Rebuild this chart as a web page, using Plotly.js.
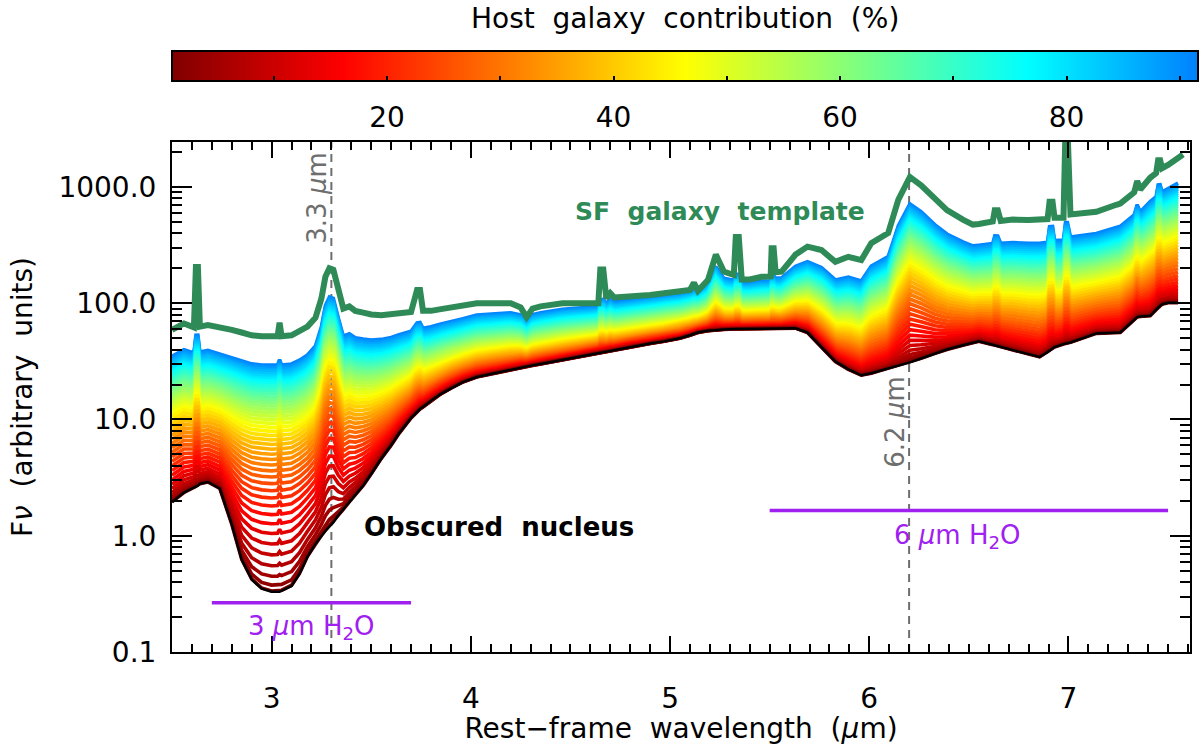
<!DOCTYPE html>
<html>
<head>
<meta charset="utf-8">
<script src="https://cdn.plot.ly/plotly-3.0.1.min.js"></script>
<style>
  body {margin: 0; background: #fff;}
  #plot {width: 1200px; height: 745px;}
</style>
</head>
<body>
<div id="plot"></div>
<script>
/////Data/////
// rest-frame wavelength grid (um)
const wavelength = [
  2.50, 2.56, 2.61, 2.62, 2.63, 2.64, 2.68, 2.74, 2.80, 2.85,
  2.90, 2.95, 3.00, 3.03, 3.04, 3.05, 3.10, 3.14, 3.18, 3.22,
  3.25, 3.27, 3.29, 3.31, 3.335, 3.36, 3.39, 3.42, 3.46, 3.50,
  3.55, 3.60, 3.64, 3.70, 3.73, 3.745, 3.76, 3.80, 3.85, 3.90,
  3.96, 4.03, 4.13, 4.20, 4.25, 4.28, 4.31, 4.35, 4.46, 4.60,
  4.64, 4.65, 4.665, 4.68, 4.70, 4.72, 4.80, 4.90, 4.97, 5.05,
  5.10, 5.12, 5.14, 5.19, 5.23, 5.27, 5.32, 5.33, 5.345, 5.36,
  5.40, 5.46, 5.505, 5.51, 5.52, 5.53, 5.56, 5.63, 5.69, 5.76,
  5.83, 5.895, 5.96, 6.01, 6.095, 6.146, 6.204, 6.26, 6.33, 6.39,
  6.47, 6.52, 6.55, 6.62, 6.63, 6.645, 6.66, 6.72, 6.80, 6.855,
  6.895, 6.905, 6.92, 6.93, 6.975, 6.985, 6.995, 7.01, 7.14, 7.24,
  7.26, 7.33, 7.345, 7.36, 7.41, 7.44, 7.45, 7.46, 7.47, 7.50,
  7.55, 7.575
];
// obscured nucleus (black)
const nucleusFlux = [
  1.95, 2.35, 2.6, 2.65, 2.7, 2.8, 2.9, 2.55, 1.25, 0.62,
  0.42, 0.35, 0.33, 0.33, 0.33, 0.335, 0.37, 0.47, 0.66, 0.85,
  1.0, 1.1, 1.2, 1.3, 1.5, 1.68, 1.95, 2.25, 2.7, 3.4,
  4.6, 6.0, 7.6, 10.3, 11.7, 12.3, 12.8, 14.5, 16.6, 18.6,
  21, 23.2, 25.3, 26.8, 28, 28.6, 29.2, 30, 32.6, 36.4,
  37.5, 37.8, 38, 38.4, 39, 39.5, 42.3, 45, 47, 50,
  53, 54.5, 56, 58, 59, 59.5, 60, 60, 60, 60,
  60.3, 60.5, 60.6, 60.6, 60.6, 60.6, 60.7, 61, 56, 42,
  31.5, 27, 24, 25, 27.5, 29, 31, 33.5, 37, 40,
  43.5, 45.5, 47, 44, 43.5, 43, 42, 39.5, 36.5, 34.5,
  38, 39, 40.5, 42, 44.5, 45, 45.5, 46, 55, 56,
  56, 72, 76, 77, 78, 88, 92, 95, 98, 101,
  101, null
];
// star-forming galaxy template (green)
const templateFlux = [
  59, 67, 62, 205, 205, 63, 65, 61, 59, 56,
  53, 52, 51.5, 52, 68, 52, 53, 57, 63, 75,
  110, 169, 200, 194, 130, 90, 94, 86, 83, 80,
  79, 80, 82, 84, 130, 130, 86, 86, 89, 92,
  94, 100, 100, 100, 92, 76, 90, 94, 100, 100,
  100, 195, 195, 110, 122, 112, 114, 118, 122, 126,
  130, 150, 128, 158, 262, 187, 175, 372, 372, 160,
  160, 169, 170, 297, 297, 185, 187, 262, 307, 287,
  227, 251, 235, 328, 401, 778, 1220, 1035, 778, 632,
  524, 475, 480, 505, 632, 632, 510, 524, 520, 524,
  530, 745, 745, 544, 544, 3200, 3200, 580, 612, 703,
  720, 900, 1125, 950, 1200, 1315, 1700, 1700, 1450, 1550,
  1750, 1900
];
// template as it enters the mixtures (narrow lines much weaker there)
const templateMixFlux = [
  59, 67, 62, 90, 90, 63, 65, 61, 59, 56,
  53, 52, 51.5, 52, 58, 52, 53, 57, 63, 75,
  110, 169, 200, 194, 130, 90, 94, 86, 83, 80,
  79, 80, 82, 84, 100, 100, 86, 86, 89, 92,
  94, 100, 100, 100, 92, 76, 90, 94, 100, 100,
  100, 125, 125, 110, 122, 112, 114, 118, 122, 126,
  130, 135, 128, 158, 262, 187, 175, 210, 210, 160,
  160, 169, 170, 200, 200, 185, 187, 262, 307, 287,
  227, 251, 235, 328, 401, 778, 1220, 1035, 778, 632,
  524, 475, 480, 505, 600, 600, 510, 524, 520, 524,
  530, 745, 745, 544, 544, 800, 800, 580, 612, 703,
  720, 900, 1125, 950, 1200, 1315, 1700, 1700, 1450, 1550,
  1750, 1900
];
// host galaxy contribution (%) of each mixed spectrum and the template scale used
const hostPct = [
  1, 3, 5, 7, 9, 11, 13, 15, 17, 19, 21, 23, 25, 27, 29, 31,
  33, 35, 37, 39, 41, 43, 45, 47, 49, 51, 53, 55, 57, 59, 61, 63,
  65, 67, 69, 71, 73, 75, 77, 79, 81, 83, 85, 87, 89, 91
];
const hostScale = [
  0.0001, 0.0009, 0.0023, 0.0043, 0.0069, 0.0101, 0.0139, 0.0182,
  0.0231, 0.0286, 0.0346, 0.0410, 0.0481, 0.0557, 0.0638, 0.0724,
  0.0815, 0.0912, 0.1013, 0.1120, 0.1231, 0.1348, 0.1470, 0.1596,
  0.1728, 0.1864, 0.2005, 0.2151, 0.2303, 0.2459, 0.2620, 0.2785,
  0.2955, 0.3130, 0.3310, 0.3496, 0.3684, 0.3879, 0.4077, 0.4281,
  0.4489, 0.4702, 0.4920, 0.5143, 0.5369, 0.5600
];
// axes / colorbar
const CB_MIN = 1.0;
const CB_MAX = 91.6;
const cbTickVals = [10, 20, 30, 40, 50, 60, 70, 80, 90];
const cbLabelVals = [20, 40, 60, 80];
const xTickVals = [3, 4, 5, 6, 7];
const yTickVals = [0.1, 1, 10, 100, 1000];
const yTickText = ['0.1', '1.0', '10.0', '100.0', '1000.0'];
// PAH features and water-ice bands
const featureWave = [3.3, 6.2];
const bandStart = [2.7, 5.5];
const bandEnd = [3.7, 7.5];
const bandLevel = [0.265, 1.65];

/////Colors/////
const JET_STOPS = [
  [0.0, [128, 0, 0]],
  [1 / 6, [255, 0, 0]],
  [0.5, [255, 255, 0]],
  [5 / 6, [0, 255, 255]],
  [1.0, [0, 128, 255]]
];
const COLORSCALE = JET_STOPS.map((s) => [s[0], 'rgb(' + s[1].join(',') + ')']);
function jetColor(v) {
  let t = (v - CB_MIN) / (CB_MAX - CB_MIN);
  t = Math.max(0, Math.min(1, t));
  for (let i = 1; i < JET_STOPS.length; i++) {
    if (t <= JET_STOPS[i][0]) {
      let a = JET_STOPS[i - 1], b = JET_STOPS[i];
      let u = (t - a[0]) / (b[0] - a[0]);
      let c = a[1].map((e, j) => Math.round(e + u * (b[1][j] - e)));
      return 'rgb(' + c.join(',') + ')';
    }
  }
  return 'rgb(0,128,255)';
}
const GREEN = 'rgb(46,139,87)';
const PURPLE = 'rgb(160,32,240)';
const GREY = 'rgb(110,110,110)';
const FONT = 'DejaVu Sans, Verdana, sans-serif';
const SP = '\u00a0\u00a0';

/////Traces/////
let traces = [];
// mixtures, high host fraction first so the redder ones sit on top
for (let k = hostPct.length - 1; k >= 0; k--) {
  let y = nucleusFlux.map((n, i) => n === null ? null : n + hostScale[k] * templateMixFlux[i]);
  traces.push({
    x: wavelength, y: y, mode: 'lines',
    line: {color: jetColor(hostPct[k]), width: 3.6},
    hoverinfo: 'skip', showlegend: false
  });
}
traces.push({
  x: wavelength, y: nucleusFlux, mode: 'lines',
  line: {color: 'black', width: 2.5},
  hoverinfo: 'skip', showlegend: false
});
traces.push({
  x: wavelength, y: templateFlux, mode: 'lines',
  line: {color: GREEN, width: 6},
  hoverinfo: 'skip', showlegend: false
});
for (let b = 0; b < bandStart.length; b++) {
  traces.push({
    x: [bandStart[b], bandEnd[b]], y: [bandLevel[b], bandLevel[b]], mode: 'lines',
    line: {color: PURPLE, width: 3.5},
    hoverinfo: 'skip', showlegend: false
  });
}
// colorbar: one copy carries the inside ticks, a second one the labels set lower
function colorbarCarrier(cbExtra) {
  let cb = Object.assign({
    orientation: 'h', x: 0.5038, xanchor: 'center', len: 1.008, lenmode: 'fraction',
    y: 1.1784, yanchor: 'top', thickness: 30, thicknessmode: 'pixels',
    xpad: 0, ypad: 0, outlinewidth: 2, outlinecolor: 'black',
    tickfont: {family: FONT, size: 28, color: 'black'}
  }, cbExtra);
  return {
    x: [null, null], y: [null, null], mode: 'markers',
    marker: {
      color: [CB_MIN, CB_MAX], cmin: CB_MIN, cmax: CB_MAX,
      colorscale: COLORSCALE, showscale: true, colorbar: cb
    },
    hoverinfo: 'skip', showlegend: false
  };
}
traces.push(colorbarCarrier({
  tickmode: 'array', tickvals: cbLabelVals, ticks: 'outside', ticklen: 12,
  tickcolor: 'rgba(0,0,0,0)'
}));
traces.push(colorbarCarrier({
  tickmode: 'array', tickvals: cbTickVals, showticklabels: false,
  ticks: 'inside', ticklen: 6, tickwidth: 2, tickcolor: 'black'
}));

/////Layout/////
let minorY = [];
for (let d = -1; d <= 3; d++) {
  for (let m = 2; m <= 9; m++) minorY.push(m * Math.pow(10, d));
}
let shapes = featureWave.map((w) => ({
  type: 'line', xref: 'x', yref: 'paper', x0: w, x1: w, y0: 0, y1: 1,
  line: {color: GREY, width: 2, dash: '8px,6px'}, layer: 'below'
}));

const LAYOUT = {
  width: 1200, height: 745,
  margin: {l: 172, r: 10, t: 142, b: 93},
  paper_bgcolor: 'white', plot_bgcolor: 'white',
  font: {family: FONT, size: 28, color: 'black'},
  hovermode: false,
  xaxis: {
    range: [2.5, 7.61], tickmode: 'array', tickvals: xTickVals,
    ticks: 'inside', ticklen: 16, tickwidth: 2, tickcolor: 'black',
    showline: true, linewidth: 2, linecolor: 'black', mirror: 'ticks',
    showgrid: false, zeroline: false, ticklabelstandoff: 20,
    minor: {dtick: 0.1, tick0: 2.5, ticks: 'inside', ticklen: 8, tickwidth: 2, tickcolor: 'black', showgrid: false},
    tickfont: {family: FONT, size: 28},
    title: {text: 'Rest\u2212frame' + SP + 'wavelength' + SP + '(<i>\u00b5</i>m)', standoff: 6,
            font: {family: FONT, size: 28}}
  },
  yaxis: {
    type: 'log', range: [-1, 3.387], tickmode: 'array', tickvals: yTickVals, ticktext: yTickText,
    ticks: 'inside', ticklen: 20, tickwidth: 2, tickcolor: 'black',
    showline: true, linewidth: 2, linecolor: 'black', mirror: 'ticks',
    showgrid: false, zeroline: false, ticklabelstandoff: 8,
    minor: {tickmode: 'array', tickvals: minorY, ticks: 'inside', ticklen: 10, tickwidth: 2, tickcolor: 'black', showgrid: false},
    tickfont: {family: FONT, size: 28},
    title: {text: 'F<i>\u03bd</i>' + SP + '(arbitrary' + SP + 'units)', standoff: 18,
            font: {family: FONT, size: 28}}
  },
  shapes: shapes,
  annotations: [
    {xref: 'paper', yref: 'paper', x: 0.504, y: 1.243, yanchor: 'middle', showarrow: false,
     text: 'Host' + SP + 'galaxy' + SP + 'contribution' + SP + '(%)',
     font: {family: FONT, size: 28, color: 'black'}},
    {x: 3.227, y: 2.906, showarrow: false, textangle: -90,
     text: '3.3\u00a0<i>\u00b5</i>m', font: {family: FONT, size: 26, color: GREY}},
    {x: 6.129, y: 0.98, showarrow: false, textangle: -90,
     text: '6.2\u00a0<i>\u00b5</i>m', font: {family: FONT, size: 26, color: GREY}},
    {x: 5.25, y: 2.786, showarrow: false,
     text: '<b>SF' + SP + 'galaxy' + SP + 'template</b>', font: {family: FONT, size: 25, color: GREEN}},
    {x: 4.14, y: 0.077, showarrow: false,
     text: '<b>Obscured' + SP + 'nucleus</b>', font: {family: FONT, size: 26, color: 'black'}},
    {x: 3.2, y: -0.791, showarrow: false,
     text: '3\u00a0<i>\u00b5</i>m\u00a0H<sub>2</sub>O', font: {family: FONT, size: 26, color: PURPLE}},
    {x: 6.445, y: -0.009, showarrow: false,
     text: '6\u00a0<i>\u00b5</i>m\u00a0H<sub>2</sub>O', font: {family: FONT, size: 26, color: PURPLE}}
  ]
};

Plotly.newPlot(document.getElementById('plot'), traces, LAYOUT, {displayModeBar: false, staticPlot: true});
</script>
</body>
</html>
